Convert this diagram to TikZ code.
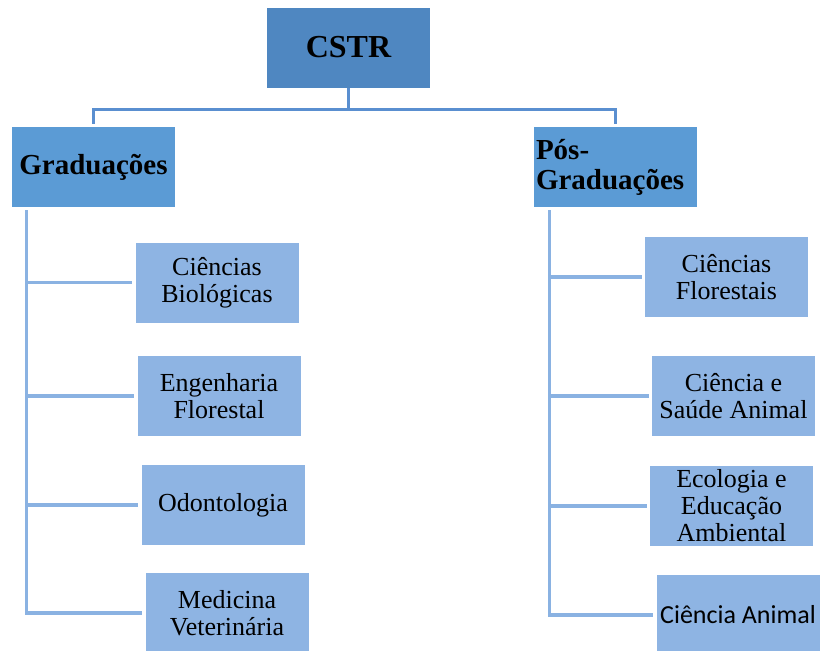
\documentclass[tikz,border=0pt]{standalone}
\usepackage{fontspec}
\setmainfont{Liberation Serif}
\newfontfamily\calibrifont{Carlito}
\usepackage{tikz}
\usetikzlibrary{positioning}
\definecolor{topblue}{HTML}{4F87C1}
\definecolor{midblue}{HTML}{5B9BD5}
\definecolor{lightblue}{HTML}{8EB4E3}
\definecolor{linetop}{HTML}{5A8FD0}
\definecolor{linelight}{HTML}{8AB2E2}

\begin{document}
\begin{tikzpicture}[x=1pt, y=-1pt,
    box/.style={minimum width=163pt, minimum height=80pt, inner sep=0pt},
    rootbox/.style={box, fill=topblue, font=\fontsize{32}{34}\selectfont\bfseries},
    levelbox/.style={box, fill=midblue, font=\fontsize{29}{30}\selectfont\bfseries},
    leafbox/.style={box, fill=lightblue, align=center, font=\fontsize{26}{27}\selectfont},
    topline/.style={draw=linetop, line width=3pt},
    treeline/.style={draw=linelight, line width=3.2pt, shorten <=3pt, shorten >=3pt}]
    \useasboundingbox (0,0) rectangle (820,651);

    % Khối gốc và hai nhánh chính
    \node[rootbox] (cstr) at (348.5,47.5) {CSTR};
    \node[levelbox] (grad) at (93.5,167) {Graduações};
    \node[levelbox, text width=159pt, align=left] (pos) at (615.5,167) {Pós-\\Graduações};

    % Các khối con bên trái
    \node[leafbox] (bio) at (217,282.5) {Ciências\\Biológicas};
    \node[leafbox] (eng) at (219,396) {Engenharia\\Florestal};
    \node[leafbox] (odo) at (223,505) {Odontologia};
    \node[leafbox] (med) at (227,613) {Medicina\\Veterinária};

    % Các khối con bên phải
    \node[leafbox] (flo) at (726.5,277) {Ciências\\Florestais};
    \node[leafbox] (sau) at (733.5,396) {Ciência e\\Saúde Animal};
    \node[leafbox] (eco) at (731.5,506) {Ecologia e\\Educação\\Ambiental};
    \node[leafbox, font=\fontsize{26}{27}\selectfont\calibrifont] (ani) at (738,615) {Ciência Animal};

    % Đường nối từ khối gốc
    \coordinate (j) at ([yshift=-22pt]cstr.south);
    \draw[topline] (cstr.south) -- (j);
    \draw[topline, shorten >=3pt] (j) -| (grad.north);
    \draw[topline, shorten >=3pt] (j) -| (pos.north);

    % Đường nối các nhánh
    \coordinate (gl) at ([xshift=15pt]grad.south west);
    \coordinate (pl) at ([xshift=16pt]pos.south west);
    \foreach \c in {bio,eng,odo,med}
        \draw[treeline] (gl) |- (\c.west);
    \foreach \c in {flo,sau,eco,ani}
        \draw[treeline] (pl) |- (\c.west);
\end{tikzpicture}
\end{document}
